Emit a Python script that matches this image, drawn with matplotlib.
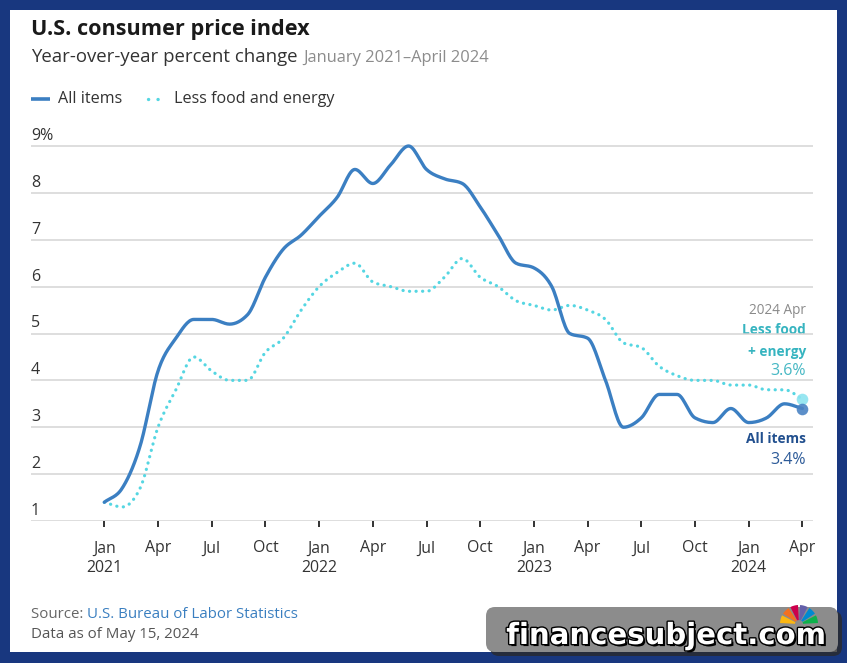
import numpy as np
import matplotlib
matplotlib.use("Agg")
import matplotlib.pyplot as plt
from matplotlib.patches import FancyBboxPatch, Rectangle, Wedge
import matplotlib.patheffects as pe

# ---- data (year-over-year % change, Jan 2021 .. Apr 2024) ----
month_names = ["Jan", "Feb", "Mar", "Apr", "May", "Jun", "Jul", "Aug", "Sep", "Oct", "Nov", "Dec"]
years = [2021, 2022, 2023, 2024]
all_items = [1.4, 1.7, 2.6, 4.2, 4.9, 5.3, 5.3, 5.2, 5.4, 6.2, 6.8, 7.1,
             7.5, 7.9, 8.5, 8.2, 8.6, 9.0, 8.5, 8.3, 8.2, 7.7, 7.1, 6.5,
             6.4, 6.0, 5.0, 4.9, 4.0, 3.0, 3.2, 3.7, 3.7, 3.2, 3.1, 3.4,
             3.1, 3.2, 3.5, 3.4]
core = [1.4, 1.3, 1.7, 3.0, 3.8, 4.5, 4.2, 4.0, 4.0, 4.6, 4.9, 5.5,
        6.0, 6.3, 6.5, 6.1, 6.0, 5.9, 5.9, 6.2, 6.6, 6.2, 6.0, 5.7,
        5.6, 5.5, 5.6, 5.5, 5.3, 4.8, 4.7, 4.3, 4.1, 4.0, 4.0, 3.9,
        3.9, 3.8, 3.8, 3.6]
y_ticks = [1, 2, 3, 4, 5, 6, 7, 8, 9]

BLUE = "#3b7fc2"
CYAN = "#55d6e2"
FONT = "Open Sans"

W, H = 847, 663


def smooth(y, n=16):
    # monotone cubic (like d3 curveMonotoneX) for drawing only
    y = np.asarray(y, float)
    x = np.arange(len(y), dtype=float)
    s = np.diff(y)
    t = np.zeros_like(y)
    for i in range(1, len(y) - 1):
        if s[i - 1] * s[i] > 0:
            p = (s[i - 1] + s[i]) / 2
            t[i] = (np.sign(s[i - 1]) + np.sign(s[i])) * min(abs(s[i - 1]), abs(s[i]), 0.5 * abs(p))
    t[0] = s[0]
    t[-1] = s[-1]
    xs, ys = [], []
    u = np.linspace(0, 1, n, endpoint=False)
    for i in range(len(s)):
        h00 = 2 * u**3 - 3 * u**2 + 1
        h10 = u**3 - 2 * u**2 + u
        h01 = -2 * u**3 + 3 * u**2
        h11 = u**3 - u**2
        xs.append(x[i] + u)
        ys.append(h00 * y[i] + h10 * t[i] + h01 * y[i + 1] + h11 * t[i + 1])
    xs.append([x[-1]])
    ys.append([y[-1]])
    return np.concatenate(xs), np.concatenate(ys)


fig = plt.figure(figsize=(W / 100, H / 100), dpi=100)
fig.patch.set_facecolor("#18377f")

# background / overlay in pixel coordinates
bg = fig.add_axes([0, 0, 1, 1], zorder=0)
bg.set_xlim(0, W)
bg.set_ylim(H, 0)
bg.axis("off")
bg.add_patch(Rectangle((10, 10), 827, 642, facecolor="white", edgecolor="none"))

# main chart axes
px0, px1 = 31, 813
x_jan21, px_month = 104.3, 17.9
y_base, px_unit = 521, 46.875
ax = fig.add_axes([px0 / W, (H - y_base) / H, (px1 - px0) / W, (y_base - 132) / H], zorder=2)
ax.set_facecolor("none")
ax.set_xlim((px0 - x_jan21) / px_month, (px1 - x_jan21) / px_month)
ax.set_ylim(1, 1 + (y_base - 132) / px_unit)
for s in ax.spines.values():
    s.set_visible(False)

for v in y_ticks:
    ax.axhline(v, color="#d4d4d4", lw=1.1, zorder=1)
    lab = f"{v}%" if v == y_ticks[-1] else str(v)
    ax.annotate(lab, xy=(0, v), xycoords=("axes fraction", "data"), xytext=(0, 1.5),
                textcoords="offset points", ha="left", va="bottom",
                fontsize=11.5, color="#333333", family=FONT)
ax.set_yticks([])

xs, ys = smooth(core)
ax.plot(xs, ys, color=CYAN, lw=2.3, linestyle=(0, (0.05, 2.0)), dash_capstyle="round",
        zorder=3, clip_on=False)
xs, ys = smooth(all_items)
ax.plot(xs, ys, color=BLUE, lw=2.4, solid_capstyle="round", zorder=4, clip_on=False)

last = len(all_items) - 1
ax.scatter([last], [core[-1]], s=70, color="#8de4f0", alpha=0.9, zorder=5, clip_on=False, lw=0)
ax.scatter([last], [all_items[-1]], s=70, color="#4a83c4", alpha=0.9, zorder=5, clip_on=False, lw=0)

tick_pos = list(range(0, len(all_items), 3))
tick_lab = []
for i in tick_pos:
    m = month_names[i % 12]
    tick_lab.append(f"{m}\n{years[i // 12]}" if m == "Jan" else m)
ax.set_xticks(tick_pos)
ax.set_xticklabels(tick_lab, fontsize=11.4, color="#333333", family=FONT, linespacing=1.3, va="top")
ax.tick_params(axis="x", length=4.5, width=1.3, color="#222222", pad=9.5)

# ---- text around the chart ----
def txt(x, y, s, **kw):
    kw.setdefault("family", FONT)
    return bg.text(x, y, s, **kw)

txt(31, 34.5, "U.S. consumer price index", fontsize=15.6, fontweight="bold", color="#1a1a1a",
    va="baseline")
t1 = txt(31, 62.5, "Year-over-year percent change", fontsize=13.4, color="#333333", va="baseline")
r = fig.canvas.get_renderer()
bb = t1.get_window_extent(r)
x_end = bg.transData.inverted().transform((bb.x1, bb.y0))[0]
txt(x_end + 6, 62.5, "January 2021\u2013April 2024", fontsize=11.9, color="#8c8c8c", va="baseline")

# legend
bg.plot([31, 50], [99, 99], color=BLUE, lw=2.6, solid_capstyle="butt")
txt(57.5, 99, "All items", fontsize=11.6, color="#333333", va="center")
bg.plot([148, 162], [99, 99], color=CYAN, lw=2.4, linestyle=(0, (0.05, 2.8)), dash_capstyle="round")
txt(174, 99, "Less food and energy", fontsize=11.6, color="#333333", va="center")

# end labels
box = dict(facecolor="white", edgecolor="none", pad=1.0)
txt(806, 310, "2024 Apr", fontsize=9.8, color="#8a8a8a", ha="right", va="center")
txt(806, 330, "Less food", fontsize=9.8, fontweight="bold", color="#36b4c0", ha="right", va="center", bbox=box)
txt(806, 352, "+ energy", fontsize=9.8, fontweight="bold", color="#36b4c0", ha="right", va="center")
txt(806, 371, f"{core[-1]}%", fontsize=11.5, color="#46b8c4", ha="right", va="center", bbox=box)
txt(806, 439, "All items", fontsize=9.8, fontweight="bold", color="#22508f", ha="right", va="center")
txt(806, 460, f"{all_items[-1]}%", fontsize=11.5, color="#2c5a98", ha="right", va="center")

# source
s1 = txt(31, 618, "Source: ", fontsize=10.8, color="#666666", va="baseline")
bb = s1.get_window_extent(r)
x_end = bg.transData.inverted().transform((bb.x1, bb.y0))[0]
txt(x_end, 618, "U.S. Bureau of Labor Statistics", fontsize=10.8, color="#3a7fc0", va="baseline")
txt(31, 638, "Data as of May 15, 2024", fontsize=10.8, color="#555555", va="baseline")

# watermark
top = fig.add_axes([0, 0, 1, 1], zorder=10)
top.set_xlim(0, W)
top.set_ylim(H, 0)
top.axis("off")
top.add_patch(FancyBboxPatch((490, 611), 352, 45, boxstyle="round,pad=0,rounding_size=9",
                             facecolor="#2a2a2a", edgecolor="none", alpha=0.8))
top.add_patch(FancyBboxPatch((486, 607), 352, 45, boxstyle="round,pad=0,rounding_size=9",
                             facecolor="#8c8c8c", edgecolor="none"))
peacock = ["#fcb711", "#f37021", "#cc004c", "#6460aa", "#0089d0", "#0db14b"]
for k, c in enumerate(peacock):
    top.add_patch(Wedge((799, 624), 19, 180 + 30 * k + 3, 180 + 30 * (k + 1) - 3, width=15,
                        facecolor=c, edgecolor="none", zorder=1))
top.text(666, 644, "financesubject.com", fontsize=21, fontweight="bold", color="white",
         family="DejaVu Sans", ha="center", va="baseline", zorder=3,
         path_effects=[pe.withSimplePatchShadow(offset=(1.5, -1.5), shadow_rgbFace="black", alpha=1),
                       pe.withStroke(linewidth=2, foreground="black")])

fig.savefig("out.png", dpi=100, facecolor=fig.get_facecolor())
